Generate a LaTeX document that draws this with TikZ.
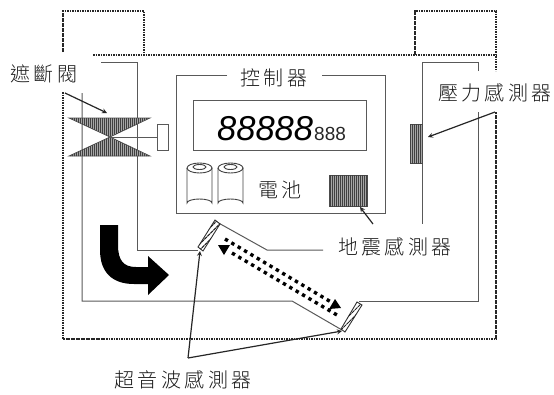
\documentclass[tikz,border=0pt]{standalone}
\usepackage{fontspec}
\usetikzlibrary{patterns.meta}
\newfontfamily\cjk[LetterSpace=17]{Noto Sans CJK TC Light}
\newfontfamily\digits{Liberation Sans}

\tikzset{
	wall/.style={black!85, line width=1.1pt, dash pattern=on 1.6pt off 0.9pt},
	pipe/.style={black!65, line width=1pt},
	callout/.style={-stealth, black!85, line width=1.2pt},
	sound/.style={line width=3.4pt, dash pattern=on 3.4pt off 4pt},
	soundtip/.style={fill=black, draw=none},
	caption/.style={font=\cjk\fontsize{20}{20}\selectfont, inner sep=0pt, black!90},
	stripes/.style={draw=black!70, line width=0.7pt, fill=black!35, postaction={pattern={Lines[angle=90,distance=2pt,line width=0.6pt]}, pattern color=black!75}},
	slant/.style={draw=black!80, line width=0.9pt, fill=white, postaction={pattern={Lines[angle=45,distance=4pt,line width=1.2pt]}, pattern color=black!85}},
	cell/.style={black!75, line width=0.9pt},
}

\begin{document}
\begin{tikzpicture}[x=1pt,y=-1pt]
	\useasboundingbox (0,0) rectangle (554,394);

	% housing
	\draw[wall] (63,52)--(63,11)--(144,11)--(144,55);
	\draw[wall] (93,55)--(496,55);
	\draw[wall] (415,55)--(415,11)--(496,11)--(496,71);
	\draw[wall] (63,92)--(63,339)--(496,339)--(496,112);

	% pipe
	\draw[pipe] (101,62)--(137,62)--(137,250)--(198,250);
	\draw[pipe] (215,221)--(267,250)--(323,250);
	\draw[pipe] (82,93)--(82,301)--(292,301)--(342,330);
	\draw[pipe] (359,301)--(478,301)--(478,112);
	\draw[pipe] (478,71)--(478,62)--(422,62)--(422,224);

	% controller
	\draw[pipe] (227,75)--(176,75)--(176,213)--(385,213)--(385,75)--(322,75);
	\draw[pipe] (193,100) rectangle (366,150);
	\node[caption] (controllerlabel) at (274,78) {控制器};
	\node[inner sep=0pt, anchor=base west, font=\digits\itshape\fontsize{34.5}{34.5}\selectfont] (bigdigits) at (217,140) {88888};
	\node[inner sep=0pt, anchor=base west, font=\digits\fontsize{19}{19}\selectfont, black!85] (smalldigits) at (314,140) {888};

	% batteries
	\foreach \bx in {187,218}{
		\draw[cell] (\bx,168)--(\bx,203) arc[start angle=180,end angle=360,x radius=12.5,y radius=4]--(\bx+25,168);
		\draw[cell] (\bx+12.5,168) ellipse[x radius=12.5,y radius=5];
		\draw[cell] (\bx+12.5,167) ellipse[x radius=6.5,y radius=2.5];
	}
	\node[caption] (batterylabel) at (280,190) {電池};

	% sensors
	\draw[stripes] (329,175) rectangle (367,206);
	\draw[stripes] (410,124) rectangle (422,163);
	\draw[slant] (215,220)--(220,224)--(203,251)--(198,247)--cycle;
	\draw[slant] (357,302)--(362,305)--(345,332)--(341,329)--cycle;

	% valve
	\draw[stripes] (69,118)--(150,118)--(110,137)--cycle;
	\draw[stripes] (69,156)--(150,156)--(110,137)--cycle;
	\draw[pipe] (110,137)--(157,137);
	\draw[pipe] (157,124) rectangle (168,150);

	% flow
	\fill (100,225)--(118,225)--(118,245) .. controls (118,261) and (124,267) .. (136,267)--(148,267)--(148,256)--(169,275)--(148,295)--(148,284)--(134,284) .. controls (112,284) and (100,272) .. (100,250)--cycle;

	% sound paths
	\draw[sound] (225,239)--(331,302);
	\fill[soundtip] (341,308)--(329,309)--(335,299)--cycle;
	\draw[sound] (232,253)--(337,315);
	\fill[soundtip] (218,245)--(230,245)--(224,255)--cycle;

	% labels
	\node[caption] (valvelabel) at (44,74) {遮斷閥};
	\node[caption] (pressurelabel) at (495,93) {壓力感測器};
	\node[caption] (seismiclabel) at (395,247) {地震感測器};
	\node[caption] (ultrasoniclabel) at (183,380) {超音波感測器};

	\coordinate (valvefrom) at (65,93);
	\coordinate (valveto) at (107,113);
	\coordinate (pressurefrom) at (495,112);
	\coordinate (pressureto) at (428,137);
	\coordinate (seismicfrom) at (373,224);
	\coordinate (seismicto) at (360,207);
	\coordinate (ultrasonicfoot) at (188,358);
	\coordinate (ultrasonicleft) at (200,251);
	\coordinate (ultrasonicright) at (342,331);

	\draw[callout] (valvefrom)--(valveto);
	\draw[callout] (pressurefrom)--(pressureto);
	\draw[callout] (seismicfrom)--(seismicto);
	\draw[callout] (ultrasonicfoot)--(ultrasonicleft);
	\draw[callout] (ultrasonicfoot)--(ultrasonicright);
\end{tikzpicture}
\end{document}
